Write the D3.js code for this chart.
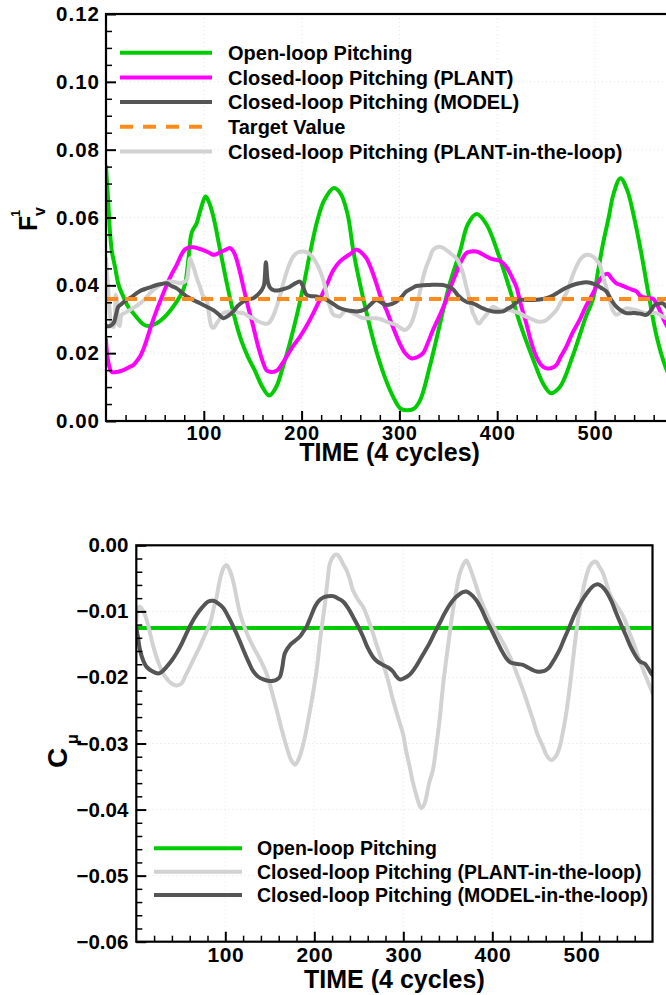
<!DOCTYPE html>
<html>
<head>
<meta charset="utf-8">
<script src="https://cdn.jsdelivr.net/npm/d3@7"></script>
<style>
  html, body { margin: 0; padding: 0; background: #fff; }
  svg { display: block; }
  text { font-family: "Liberation Sans", Arial, Helvetica, sans-serif; font-weight: bold; fill: #000; }
</style>
</head>
<body>
<svg id="chart" width="666" height="995"></svg>
<script>
// ---------------- DATA ----------------
const xTickValues = [100, 200, 300, 400, 500];
const topYTicks = [0.00, 0.02, 0.04, 0.06, 0.08, 0.10, 0.12];
const bottomYTicks = [0.00, -0.01, -0.02, -0.03, -0.04, -0.05, -0.06];
const timeDomain = [0, 580];

const topLegendLabels = [
  "Open-loop Pitching",
  "Closed-loop Pitching (PLANT)",
  "Closed-loop Pitching (MODEL)",
  "Target Value",
  "Closed-loop Pitching (PLANT-in-the-loop)"
];
const bottomLegendLabels = [
  "Open-loop Pitching",
  "Closed-loop Pitching (PLANT-in-the-loop)",
  "Closed-loop Pitching (MODEL-in-the-loop)"
];

const targetValue = 0.036;

const openLoopF = [[0,0.075],[2,0.066],[4,0.056],[6,0.050],[9.2,0.0455],[13,0.040],[17.7,0.0367],[22,0.034],[27.9,0.0318],[33,0.030],[38.2,0.0285],[43.3,0.028],[51.8,0.0288],[62,0.0313],[72.3,0.0352],[78,0.038],[81,0.0405],[84.2,0.0475],[87.6,0.0555],[92.7,0.0583],[96.1,0.0617],[102,0.0662],[106,0.064],[110,0.060],[117,0.050],[124,0.040],[131,0.031],[138,0.024],[145,0.019],[152,0.015],[160,0.010],[167,0.0075],[174,0.010],[181,0.016],[188,0.023],[195,0.031],[202,0.040],[209,0.050],[216,0.059],[223,0.065],[233,0.0687],[240,0.067],[247,0.061],[253,0.050],[260,0.040],[268,0.030],[276,0.021],[285,0.013],[293,0.0075],[302,0.0035],[314,0.0035],[321,0.006],[331,0.016],[341,0.028],[351,0.040],[362,0.050],[370,0.058],[379,0.061],[389,0.058],[402,0.0485],[413,0.0387],[423,0.029],[437,0.018],[447,0.011],[455,0.0082],[464,0.010],[477,0.019],[491,0.031],[498,0.036],[503,0.044],[508,0.052],[514,0.060],[519,0.067],[526,0.0716],[533,0.068],[540,0.060],[547,0.050],[555,0.037],[563,0.025],[572,0.016],[580,0.011]];

const plantF = [[0,0.024],[2,0.018],[5.8,0.0145],[12,0.0145],[17.7,0.015],[23,0.0158],[27.9,0.0165],[31,0.0175],[34.8,0.019],[38,0.021],[41.6,0.0239],[46,0.028],[51.8,0.0327],[57,0.0365],[62,0.0401],[67,0.0432],[72.3,0.046],[77,0.049],[80.8,0.0506],[85,0.0512],[89.3,0.0512],[95,0.0508],[99.5,0.0504],[105,0.0497],[109.7,0.049],[113,0.0492],[116.6,0.0497],[121,0.0503],[126.8,0.051],[129,0.0505],[131.9,0.049],[136,0.045],[140.4,0.0396],[145,0.034],[150.6,0.0278],[156,0.0215],[160.9,0.017],[164,0.015],[167.7,0.0145],[174.5,0.0148],[180,0.0168],[184.7,0.019],[191,0.022],[198.4,0.0249],[205,0.028],[212,0.0318],[219,0.036],[225.6,0.0401],[232.5,0.0445],[239,0.047],[245.7,0.0485],[251,0.0495],[255.9,0.0506],[261,0.0497],[266.2,0.048],[271,0.045],[276.4,0.0406],[281,0.0365],[286.7,0.0327],[293,0.028],[300.3,0.0229],[306,0.020],[312.2,0.0185],[318,0.0188],[324.1,0.020],[329,0.023],[334.3,0.0268],[341,0.031],[347.9,0.0357],[353,0.040],[358.1,0.0436],[363,0.047],[368.4,0.0495],[373,0.050],[378.6,0.050],[383,0.0495],[388.8,0.0485],[394,0.0478],[399,0.0475],[404,0.047],[409.3,0.0455],[414,0.043],[419.5,0.0396],[424,0.0345],[429.7,0.0288],[435,0.023],[440,0.019],[445,0.0165],[450.3,0.0155],[455,0.0156],[460.5,0.0165],[465,0.019],[470.7,0.0219],[477,0.026],[484.3,0.0298],[491,0.034],[498,0.0377],[504.8,0.0416],[509,0.043],[513.3,0.0434],[517,0.042],[521.8,0.0406],[527,0.040],[532,0.0394],[537,0.0388],[542.3,0.0382],[546,0.037],[550.8,0.0364],[555,0.0362],[559.4,0.036],[563,0.0345],[566.1,0.0327],[570,0.030],[573,0.0283],[580,0.025]];

const modelF = [[0,0.028],[4,0.028],[8,0.029],[10,0.031],[12.6,0.0337],[16,0.0345],[21,0.0357],[26,0.0365],[31.4,0.0377],[36,0.0385],[41.6,0.0391],[46,0.0395],[51.8,0.0401],[57,0.0404],[62,0.0406],[67,0.0398],[72.3,0.0391],[77,0.038],[82.5,0.0367],[89,0.0357],[96.1,0.0347],[103,0.0337],[109.7,0.0327],[115,0.0315],[120,0.0303],[125,0.031],[130.2,0.0323],[135,0.034],[140.4,0.0352],[145,0.0358],[150.6,0.0362],[155,0.0372],[159.2,0.0386],[161.5,0.040],[163.5,0.0468],[165.5,0.041],[168,0.0392],[172,0.0385],[177.9,0.0386],[183,0.039],[188.1,0.0396],[193,0.0405],[198.4,0.0411],[201,0.040],[205.2,0.0372],[210,0.0368],[215.4,0.0367],[220,0.0362],[225.6,0.0357],[232.5,0.0345],[239,0.0333],[245.7,0.0327],[250,0.0325],[255.9,0.0323],[261,0.0325],[266.2,0.0332],[271,0.0345],[276.4,0.0357],[281,0.035],[286.7,0.0342],[292,0.0345],[296.9,0.0352],[302,0.0365],[307.1,0.0382],[312,0.039],[317.3,0.0398],[324,0.040],[331,0.0401],[338,0.0402],[344.6,0.0401],[350,0.0396],[354.9,0.0388],[360,0.037],[365.1,0.0357],[370,0.035],[375.3,0.0347],[380,0.034],[385.5,0.0332],[390,0.0327],[395.8,0.0323],[401,0.0322],[406,0.0323],[410,0.033],[414.6,0.0337],[419,0.0348],[423.1,0.0357],[430,0.0357],[436.7,0.0357],[443,0.0358],[450.3,0.0362],[457,0.037],[463.9,0.0382],[470,0.0392],[477.5,0.0401],[484,0.0406],[491.1,0.0409],[496,0.0407],[501.4,0.0401],[506,0.0393],[511.6,0.0382],[516,0.036],[521.8,0.0337],[527,0.0325],[532,0.0318],[537,0.0318],[542.3,0.0318],[547,0.0316],[552.5,0.0313],[557,0.0325],[561,0.0342],[565,0.0346],[569.5,0.0347],[573,0.0337],[580,0.033]];

const plantLoopF = [[0,0.048],[2,0.040],[4,0.032],[6,0.028],[8,0.0278],[10,0.0372],[11.5,0.035],[12.6,0.0285],[14,0.028],[16,0.0313],[20,0.032],[24.5,0.0327],[30,0.0337],[34.8,0.0347],[40,0.036],[45,0.0377],[50,0.039],[55.2,0.0401],[60,0.0408],[65.4,0.0411],[70,0.041],[75.7,0.0406],[80,0.041],[82.5,0.0416],[84.5,0.045],[85.9,0.048],[89.3,0.0455],[93,0.042],[96.1,0.0396],[99,0.037],[102.9,0.0357],[105,0.032],[108,0.0278],[110,0.0275],[113.2,0.0288],[116,0.030],[120,0.0318],[125,0.0322],[130.2,0.0323],[135,0.032],[140.4,0.0318],[145,0.031],[150.6,0.0303],[155,0.0295],[160.9,0.0288],[165,0.0287],[167.7,0.0293],[171,0.031],[174.5,0.0337],[178,0.037],[181.3,0.0406],[186,0.045],[191.5,0.0485],[196,0.0497],[201.8,0.050],[207,0.0495],[212,0.048],[217,0.0455],[222.2,0.0416],[226,0.037],[229,0.0337],[232.5,0.0313],[236,0.031],[239,0.0308],[242,0.0318],[245.7,0.0327],[250,0.0322],[255.9,0.0313],[261,0.0305],[266.2,0.0303],[276.4,0.0303],[281,0.030],[286.7,0.0293],[292,0.0288],[296.9,0.0283],[301,0.0275],[305.4,0.0268],[309,0.0275],[312.2,0.0288],[316,0.032],[320.7,0.0377],[324,0.042],[327.5,0.0455],[331,0.048],[334.3,0.0504],[338,0.0512],[341.2,0.0514],[345,0.051],[349.7,0.050],[354,0.049],[358.2,0.048],[362,0.046],[365,0.0436],[368,0.040],[371.9,0.0357],[375,0.032],[377,0.0308],[380,0.029],[382,0.0288],[385,0.030],[388.9,0.0313],[392,0.0325],[395.7,0.0337],[399,0.0332],[402.5,0.0327],[412.7,0.0327],[418,0.0322],[422.9,0.0318],[428,0.031],[433.2,0.0303],[437,0.0298],[441.7,0.0293],[446,0.0293],[450.3,0.0298],[455,0.031],[460.5,0.0327],[465,0.035],[470.7,0.0377],[476,0.042],[480.9,0.0455],[486,0.048],[491.1,0.049],[496,0.0488],[501.4,0.0475],[505,0.046],[508.2,0.0426],[512,0.039],[515,0.0357],[518,0.0328],[521.8,0.0313],[526,0.032],[532,0.0332],[537,0.033],[542.3,0.0327],[552.5,0.0318],[562.7,0.0318],[568,0.031],[573,0.0303],[580,0.0295]];

const openLoopC = [[0,-0.0125],[580,-0.0125]];

const plantLoopC = [[0,-0.0115],[2,-0.0095],[4.1,-0.0093],[6.5,-0.0097],[9.7,-0.0105],[14,-0.0125],[19.1,-0.0153],[25,-0.0178],[30.3,-0.0194],[36,-0.0205],[41.6,-0.0211],[46,-0.0212],[50.9,-0.0209],[55,-0.0198],[60.3,-0.0184],[66,-0.0168],[71.5,-0.0153],[77,-0.0136],[82.8,-0.0118],[87,-0.0095],[90.3,-0.0078],[93,-0.0058],[95.9,-0.0042],[98.5,-0.0033],[101.5,-0.003],[105,-0.0038],[109,-0.0055],[112.5,-0.0078],[116.5,-0.0103],[121,-0.0122],[125.8,-0.0138],[130,-0.015],[135.2,-0.0163],[141,-0.0178],[146.4,-0.0194],[152,-0.022],[157.7,-0.0249],[163,-0.0277],[168.9,-0.0305],[174,-0.0325],[178.3,-0.0332],[182,-0.0325],[185.8,-0.031],[189.5,-0.029],[193.3,-0.0264],[198,-0.0228],[202.6,-0.0189],[207,-0.0138],[212,-0.0088],[215,-0.0052],[217.6,-0.0027],[221.3,-0.0017],[224,-0.0014],[226.6,-0.0015],[230,-0.0022],[233,-0.003],[236,-0.0037],[240,-0.0052],[243.4,-0.0068],[249,-0.0082],[254.7,-0.0093],[260,-0.011],[265.9,-0.0133],[271,-0.0155],[277.2,-0.0179],[283,-0.0205],[288.4,-0.0234],[294,-0.026],[299.6,-0.0285],[303,-0.031],[307.1,-0.0335],[311,-0.036],[315,-0.038],[318,-0.0393],[320.2,-0.0398],[323,-0.0394],[326,-0.038],[329,-0.036],[333.3,-0.034],[337,-0.0305],[340.8,-0.0264],[345,-0.0208],[350.2,-0.0153],[355,-0.0105],[359.6,-0.0068],[363,-0.0045],[367,-0.003],[370.8,-0.0023],[374,-0.0031],[378.3,-0.0047],[382,-0.0062],[385.8,-0.0078],[391,-0.0095],[397,-0.0113],[402,-0.0125],[408.2,-0.0138],[415,-0.0155],[423.2,-0.0179],[428,-0.0196],[434.5,-0.0219],[440,-0.0241],[445.7,-0.0264],[451,-0.0287],[457,-0.0305],[461,-0.0318],[466.3,-0.0325],[471,-0.032],[475.7,-0.0305],[479,-0.0285],[483.1,-0.0254],[487,-0.0215],[490.6,-0.0174],[495,-0.0125],[500,-0.0083],[504,-0.0055],[509.4,-0.0032],[513,-0.0026],[516.9,-0.0025],[520,-0.0032],[524.3,-0.0042],[528,-0.0057],[531.8,-0.0073],[537,-0.0086],[543.1,-0.0098],[549,-0.0113],[554.3,-0.0133],[560,-0.0153],[565.5,-0.0174],[572,-0.0197],[578.7,-0.0219],[580,-0.0224]];

const modelLoopC = [[0,-0.0125],[2,-0.014],[4.1,-0.0158],[8,-0.0175],[11.6,-0.0184],[17,-0.019],[24.7,-0.0194],[29,-0.0191],[34,-0.0184],[40,-0.0174],[45.3,-0.0163],[51,-0.0149],[56.5,-0.0133],[62,-0.0118],[67.8,-0.0105],[74,-0.0094],[80.9,-0.0085],[86.5,-0.0084],[92,-0.0088],[97.8,-0.0095],[103,-0.0107],[109,-0.0123],[115,-0.0141],[120.2,-0.0158],[126,-0.0176],[131.5,-0.0191],[137,-0.0199],[142.7,-0.0203],[148,-0.0205],[154,-0.0205],[158,-0.0203],[161.4,-0.0199],[164,-0.0185],[167,-0.0163],[172.7,-0.0151],[178,-0.0145],[183.9,-0.0138],[188,-0.013],[191.4,-0.0123],[196,-0.0108],[200.7,-0.0093],[205,-0.0084],[210,-0.0079],[215,-0.0077],[221.3,-0.0077],[226,-0.008],[232.2,-0.0085],[238,-0.0095],[243.4,-0.0108],[249,-0.0122],[254.7,-0.0138],[260,-0.0155],[265.9,-0.0169],[271,-0.0176],[277.2,-0.0181],[283,-0.0185],[288.4,-0.0191],[292,-0.0198],[295.9,-0.0203],[301,-0.0201],[307.1,-0.0196],[313,-0.0186],[318.4,-0.0174],[324,-0.0161],[329.6,-0.0148],[335,-0.0133],[340.8,-0.0118],[346,-0.0104],[352.1,-0.009],[358,-0.008],[363.3,-0.0074],[367,-0.0071],[370.8,-0.007],[376,-0.0074],[382,-0.0083],[388,-0.0097],[393.3,-0.0113],[399,-0.0128],[404.5,-0.0143],[410,-0.0158],[415.7,-0.0171],[420,-0.0177],[425.1,-0.0179],[430,-0.018],[434.5,-0.0181],[440,-0.0185],[445.7,-0.0189],[450,-0.0191],[455,-0.0191],[460,-0.0189],[464.4,-0.0184],[470,-0.0172],[475.7,-0.0158],[481,-0.0141],[486.9,-0.0123],[492,-0.0106],[498.1,-0.009],[504,-0.0077],[509.4,-0.0067],[514,-0.0061],[518.7,-0.0059],[523,-0.0062],[528.1,-0.007],[534,-0.0085],[539.3,-0.0103],[545,-0.0121],[550.6,-0.0138],[556,-0.0155],[561.8,-0.0169],[566,-0.0176],[571.2,-0.0179],[575,-0.0186],[578.7,-0.0194],[580,-0.0196]];

// ---------------- STYLE ----------------
const C_GREEN = "#00cc00", C_MAGENTA = "#ff00ff", C_DARK = "#555555",
      C_ORANGE = "#ff8c1a", C_LIGHT = "#d2d2d2";
const LW = 4;

const svg = d3.select("#chart");

function drawPanel(cfg) {
  const x = d3.scaleLinear().domain(timeDomain).range([cfg.left, cfg.right]);
  const y = d3.scaleLinear().domain(cfg.yDomain).range([cfg.bottom, cfg.top]);
  const g = svg.append("g");

  g.append("g").selectAll("line").data(xTickValues).join("line")
    .attr("x1", d => x(d)).attr("x2", d => x(d))
    .attr("y1", cfg.top).attr("y2", cfg.bottom)
    .attr("stroke", "#e4e4e4").attr("stroke-width", 1).attr("stroke-dasharray", "1,3");
  g.append("g").selectAll("line").data(cfg.yTicks).join("line")
    .attr("x1", cfg.left).attr("x2", cfg.right)
    .attr("y1", d => y(d)).attr("y2", d => y(d))
    .attr("stroke", "#e4e4e4").attr("stroke-width", 1).attr("stroke-dasharray", "1,3");

  const clipId = "clip" + cfg.id;
  svg.append("clipPath").attr("id", clipId).append("rect")
    .attr("x", cfg.left).attr("y", cfg.top)
    .attr("width", cfg.right - cfg.left).attr("height", cfg.bottom - cfg.top);

  const line = d3.line().x(d => x(d[0])).y(d => y(d[1])).curve(d3.curveCatmullRom.alpha(0.5));
  const series = g.append("g").attr("clip-path", `url(#${clipId})`);
  cfg.series.forEach(s => {
    series.append("path").datum(s.data)
      .attr("fill", "none").attr("stroke", s.color).attr("stroke-width", LW)
      .attr("stroke-linejoin", "round").attr("stroke-linecap", s.dash ? "butt" : "round")
      .attr("stroke-dasharray", s.dash || null)
      .attr("d", line);
  });

  const minorX = d3.range(20, 580, 20).filter(v => v % 100 !== 0);
  const minorY = d3.range(cfg.yDomain[0], cfg.yDomain[1] + 1e-9, cfg.minorStep)
    .filter(v => cfg.yTicks.every(t => Math.abs(t - v) > 1e-9));

  g.append("g").attr("transform", `translate(0,${cfg.bottom})`)
    .call(d3.axisBottom(x).tickValues(minorX).tickSize(-6).tickFormat(""))
    .call(a => a.select(".domain").remove())
    .selectAll("line").attr("stroke-width", 1.5);
  g.append("g").attr("transform", `translate(${cfg.left},0)`)
    .call(d3.axisLeft(y).tickValues(minorY).tickSize(-6).tickFormat(""))
    .call(a => a.select(".domain").remove())
    .selectAll("line").attr("stroke-width", 1.5);

  const xa = g.append("g").attr("transform", `translate(0,${cfg.bottom})`)
    .call(d3.axisBottom(x).tickValues(xTickValues).tickSize(-10).tickPadding(cfg.xPad).tickFormat(d3.format("d")));
  xa.select(".domain").remove();
  xa.selectAll("line").attr("stroke-width", 2);
  xa.selectAll("text").attr("font-size", cfg.xTickFont).attr("font-family", null)
    .style("font-weight", "bold").style("letter-spacing", cfg.xLS + "px");

  const ya = g.append("g").attr("transform", `translate(${cfg.left},0)`)
    .call(d3.axisLeft(y).tickValues(cfg.yTicks).tickSize(-10).tickPadding(cfg.yPad)
      .tickFormat(d => Math.abs(d) < 1e-12 ? "0.00" : d3.format(".2f")(d)));
  ya.select(".domain").remove();
  ya.selectAll("line").attr("stroke-width", 2);
  ya.selectAll("text").attr("font-size", cfg.yTickFont).attr("font-family", null)
    .style("font-weight", "bold").style("letter-spacing", cfg.yLS + "px");

  g.append("rect").attr("x", cfg.left).attr("y", cfg.top)
    .attr("width", cfg.right - cfg.left).attr("height", cfg.bottom - cfg.top)
    .attr("fill", "none").attr("stroke", "#000").attr("stroke-width", 2.2);

  g.append("text").attr("x", (cfg.left + cfg.right) / 2).attr("y", cfg.titleY)
    .attr("text-anchor", "middle").attr("font-size", 25).text("TIME (4 cycles)");

  cfg.legend.forEach((l, i) => {
    const ly = cfg.legY + i * cfg.legStep;
    g.append("line").attr("x1", cfg.legX1).attr("x2", cfg.legX2)
      .attr("y1", ly).attr("y2", ly)
      .attr("stroke", l.color).attr("stroke-width", LW)
      .attr("stroke-dasharray", l.dash || null);
    g.append("text").attr("x", cfg.legText).attr("y", ly + cfg.legFont * 0.36)
      .attr("font-size", cfg.legFont).text(l.label);
  });
  return g;
}

drawPanel({
  id: "top", left: 106, right: 106 + 580 * 0.978, top: 14, bottom: 421,
  yDomain: [0, 0.12], yTicks: topYTicks, minorStep: 0.005,
  xPad: 5, yPad: 6, xTickFont: 20, yTickFont: 20.5, xLS: 0.8, yLS: 1.0, titleY: 461,
  series: [
    { data: openLoopF, color: C_GREEN },
    { data: plantF, color: C_MAGENTA },
    { data: plantLoopF, color: C_LIGHT },
    { data: modelF, color: C_DARK },
    { data: [[timeDomain[0], targetValue], [timeDomain[1], targetValue]], color: C_ORANGE, dash: "12,7" }
  ],
  legX1: 120, legX2: 212, legText: 228, legY: 52.7, legStep: 24.7, legFont: 20,
  legend: [
    { label: topLegendLabels[0], color: C_GREEN },
    { label: topLegendLabels[1], color: C_MAGENTA },
    { label: topLegendLabels[2], color: C_DARK },
    { label: topLegendLabels[3], color: C_ORANGE, dash: "13,10" },
    { label: topLegendLabels[4], color: C_LIGHT }
  ]
});

drawPanel({
  id: "bot", left: 136.3, right: 136.3 + 580 * 0.89, top: 545.3, bottom: 941.7,
  yDomain: [-0.06, 0], yTicks: bottomYTicks, minorStep: 0.002,
  xPad: 5, yPad: 8, xTickFont: 21, yTickFont: 20.5, xLS: 0.5, yLS: 0, titleY: 988,
  series: [
    { data: openLoopC, color: C_GREEN },
    { data: plantLoopC, color: C_LIGHT },
    { data: modelLoopC, color: C_DARK }
  ],
  legX1: 154, legX2: 242, legText: 257, legY: 848.3, legStep: 23.4, legFont: 19.5,
  legend: [
    { label: bottomLegendLabels[0], color: C_GREEN },
    { label: bottomLegendLabels[1], color: C_LIGHT },
    { label: bottomLegendLabels[2], color: C_DARK }
  ]
});

svg.append("text").attr("transform", "translate(37,231) rotate(-90)").attr("font-size", 25).text("F");
svg.append("text").attr("transform", "translate(20,217) rotate(-90)").attr("font-size", 13).text("1");
svg.append("text").attr("transform", "translate(45,216) rotate(-90)").attr("font-size", 16).text("v");

svg.append("text").attr("transform", "translate(67,768) rotate(-90)").attr("font-size", 28).text("C");
svg.append("text").attr("transform", "translate(78,744) rotate(-90)").attr("font-size", 16).text("μ");
</script>
</body>
</html>
